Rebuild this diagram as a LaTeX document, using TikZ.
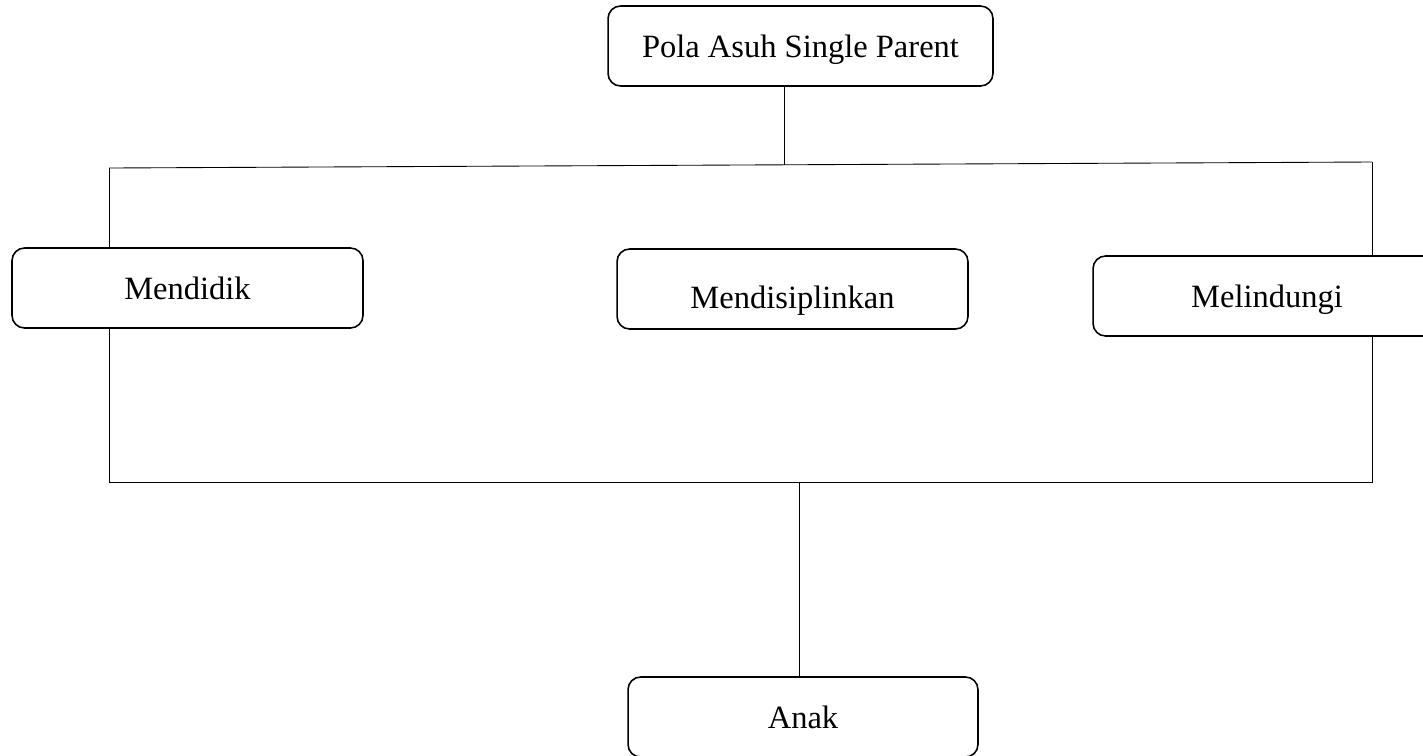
\documentclass[tikz,border=0pt]{standalone}
\usepackage{fontspec}
\setmainfont{Liberation Serif}
\usetikzlibrary{positioning}
\tikzset{
  kotak/.style={draw, line width=0.9pt, rounded corners=0.25cm, fill=white,
    inner sep=0pt, text height=12.6pt, text depth=0pt,
    font=\fontsize{18.5}{22}\selectfont},
  garis/.style={line width=0.5pt}
}

\begin{document}
\begin{tikzpicture}[x=0.02cm,y=-0.02cm]
\clip (0,0) rectangle (1423,755);
\useasboundingbox (0,0) rectangle (1423,755);

\node [kotak, minimum width=7.7cm, minimum height=1.6cm] (pola) at (800.5,46) {Pola Asuh Single Parent};
\node [kotak, minimum width=7.02cm, minimum height=1.6cm] (didik) at (187.5,288) {Mendidik};
\node [kotak, minimum width=7.02cm, minimum height=1.6cm, text height=22pt] (disiplin) at (792.5,289) {Mendisiplinkan};
\node [kotak, minimum width=6.96cm, minimum height=1.6cm] (lindung) at (1267,296) {Melindungi};
\node [kotak, minimum width=7cm, minimum height=1.6cm] (anak) at (803,717) {Anak};

\coordinate (tl) at (109,168);
\coordinate (tr) at (1372,162);
\coordinate (tm) at (784,165);
\coordinate (bl) at (109,482);
\coordinate (br) at (1372,482);
\coordinate (bm) at (799,482);

\draw [garis] (tl) -- (tr);
\draw [garis] (pola.south -| tm) -- (tm);
\draw [garis] (tl) -- (didik.north -| tl);
\draw [garis] (tr) -- (lindung.north -| tr);
\draw [garis] (didik.south -| bl) -- (bl) -- (br) -- (lindung.south -| br);
\draw [garis] (bm) -- (anak.north -| bm);
\end{tikzpicture}
\end{document}
